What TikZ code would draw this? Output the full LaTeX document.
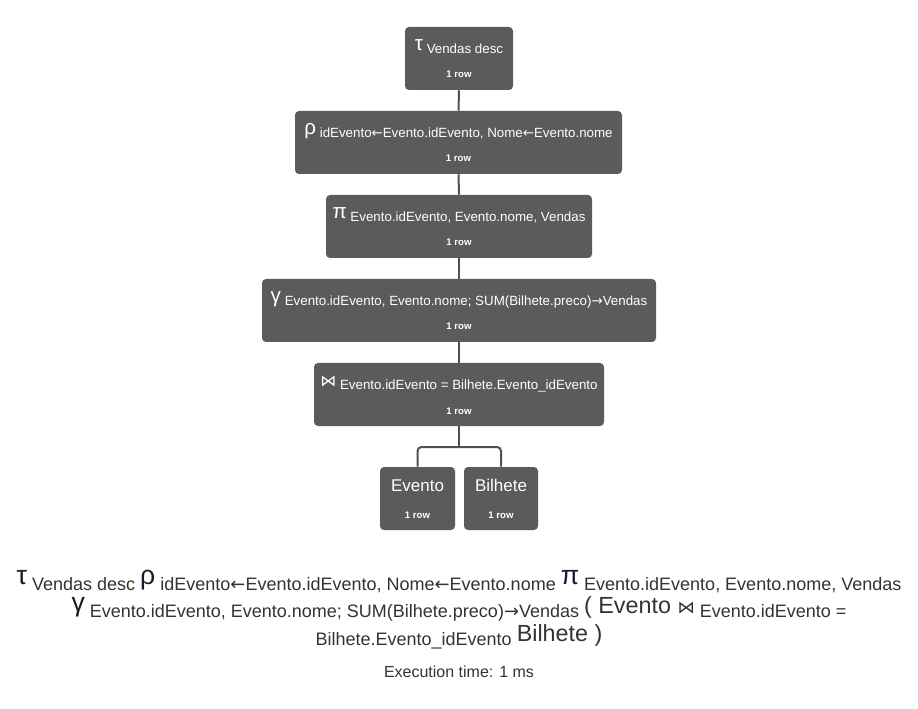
\documentclass[tikz,border=0pt]{standalone}
\usepackage{fontspec}
\setmainfont{Liberation Sans}
\newfontfamily\dejavu{DejaVu Sans}
\definecolor{boxgray}{HTML}{5B5B5B}
\definecolor{linegray}{HTML}{505050}
\definecolor{txtc}{HTML}{333333}
\definecolor{greekc}{HTML}{1A1A2E}
\newcommand\bgk[1]{\raisebox{2.6pt}{\fontsize{15.5}{16}\selectfont #1}}
\newcommand\tgk[1]{\raisebox{4.5pt}{\textcolor{greekc}{\fontsize{20}{21}\selectfont #1}}}
\newcommand\bigtx[1]{\raisebox{2.5pt}{\fontsize{17.5}{19}\selectfont #1}}
\newcommand\la{{\dejavu ←}}
\newcommand\ra{{\dejavu →}}
\begin{document}
\begin{tikzpicture}[x=0.75pt,y=-0.75pt,
  opbox/.style={fill=boxgray,rounded corners=3pt,inner sep=0pt,minimum height=47.25pt},
  ttl/.style={text=white,font=\fontsize{10}{12}\selectfont,anchor=base,inner sep=0pt},
  reltl/.style={text=white,font=\fontsize{12.75}{14}\selectfont,anchor=base,inner sep=0pt},
  rowsl/.style={text=white,font=\bfseries\fontsize{7.2}{8}\selectfont,anchor=base,inner sep=0pt},
  conn/.style={draw=linegray,line width=1.5pt},
  bottomtxt/.style={text=txtc,font=\fontsize{13.5}{15}\selectfont,anchor=base,inner sep=0pt}]
\useasboundingbox (0,0) rectangle (918,709);
% boxes
\node[opbox,minimum width=81pt] (b1) at (459,58.5) {};
\node[opbox,minimum width=245.25pt] (b2) at (458.5,142.5) {};
\node[opbox,minimum width=199.5pt] (b3) at (459,226.5) {};
\node[opbox,minimum width=295.5pt] (b4) at (459,310.5) {};
\node[opbox,minimum width=217.5pt] (b5) at (459,394.5) {};
\node[opbox,minimum width=56.25pt] (b6) at (417.5,498.5) {};
\node[opbox,minimum width=55.5pt] (b7) at (501,498.5) {};
% titles
\node[ttl] (t1) at (459,54) {\bgk{τ} Vendas desc};
\node[ttl] (t2) at (458.5,138) {\bgk{ρ} idEvento\la Evento.idEvento, Nome\la Evento.nome};
\node[ttl] (t3) at (459,222) {\bgk{π} Evento.idEvento, Evento.nome, Vendas};
\node[ttl] (t4) at (459,306) {\bgk{γ} Evento.idEvento, Evento.nome; SUM(Bilhete.preco)\ra Vendas};
\node[ttl] (t5) at (459,390) {\bgk{\dejavu\fontsize{12}{13}\selectfont ⋈} Evento.idEvento = Bilhete.Evento\_idEvento};
\node[reltl] (t6) at (417.5,491) {Evento};
\node[reltl] (t7) at (501,491) {Bilhete};
% rows
\node[rowsl] (r1) at (459,78) {1 row};
\node[rowsl] (r2) at (458.5,162) {1 row};
\node[rowsl] (r3) at (459,246) {1 row};
\node[rowsl] (r4) at (459,330) {1 row};
\node[rowsl] (r5) at (459,414) {1 row};
\node[rowsl] (r6) at (417.5,518) {1 row};
\node[rowsl] (r7) at (501,518) {1 row};
% connectors
\draw[conn] (b1.south) -- (b2.north);
\draw[conn] (b2.south) -- (b3.north);
\draw[conn] (b3.south) -- (b4.north);
\draw[conn] (b4.south) -- (b5.north);
\coordinate (j) at (459,447);
\draw[conn] (b5.south) -- (j);
\draw[conn,rounded corners=3pt] (j) -| (b6.north);
\draw[conn,rounded corners=3pt] (j) -| (b7.north);
% bottom expression
\node[bottomtxt] (e1) at (459,590) {\tgk{τ} Vendas desc \tgk{ρ} idEvento\la Evento.idEvento, Nome\la Evento.nome \tgk{π} Evento.idEvento, Evento.nome, Vendas};
\node[bottomtxt] (e2) at (459,617) {\tgk{γ} Evento.idEvento, Evento.nome; SUM(Bilhete.preco)\ra Vendas \bigtx{( Evento {\dejavu\fontsize{13}{14}\selectfont ⋈}} Evento.idEvento =};
\node[bottomtxt] (e3) at (459,645) {Bilhete.Evento\_idEvento \bigtx{Bilhete )}};
\node[bottomtxt,font=\fontsize{12}{13}\selectfont] (e4) at (459,677) {Execution time: 1 ms};
\end{tikzpicture}
\end{document}
